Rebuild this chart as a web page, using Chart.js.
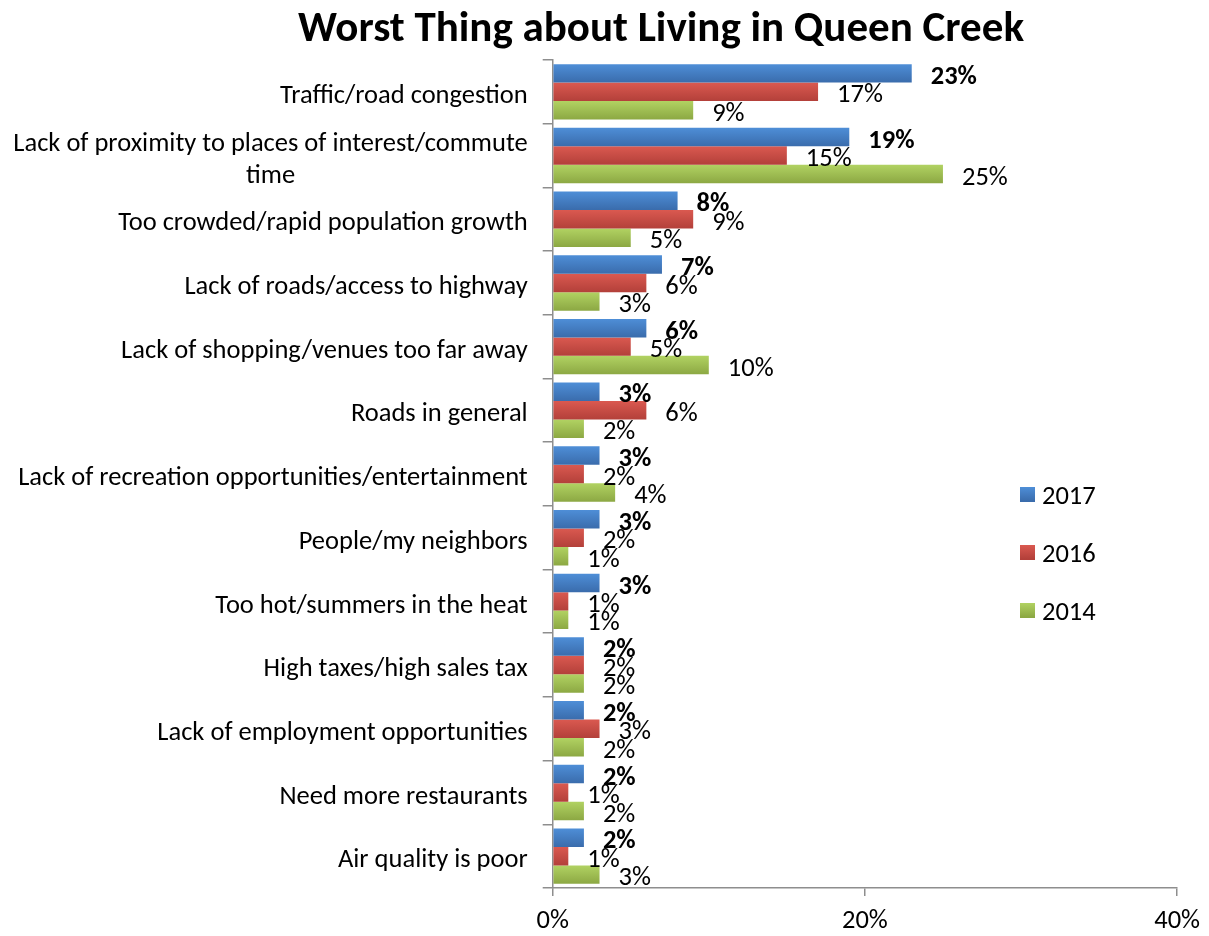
<!DOCTYPE html>
<html>
<head>
<meta charset="utf-8">
<title>Worst Thing about Living in Queen Creek</title>
<script src="https://cdn.jsdelivr.net/npm/chart.js@4.4.1/dist/chart.umd.min.js"></script>
<style>
html, body { margin: 0; padding: 0; background: #fff; overflow: hidden; }
#wrap { width: 1209px; height: 936px; }
canvas { display: block; }
</style>
</head>
<body>
<div id="wrap"><canvas id="chart" width="1209" height="936"></canvas></div>
<script>
const chart_title = "Worst Thing about Living in Queen Creek"

// Multi-line labels are arrays, one entry per line
const categories = [
    "Traffic/road congestion",
    ["Lack of proximity to places of interest/commute", "time"],
    "Too crowded/rapid population growth",
    "Lack of roads/access to highway",
    "Lack of shopping/venues too far away",
    "Roads in general",
    "Lack of recreation opportunities/entertainment",
    "People/my neighbors",
    "Too hot/summers in the heat",
    "High taxes/high sales tax",
    "Lack of employment opportunities",
    "Need more restaurants",
    "Air quality is poor",
]

const years = ["2017", "2016", "2014"]
const values_2017 = [23, 19, 8, 7, 6, 3, 3, 3, 3, 2, 2, 2, 2]
const values_2016 = [17, 15, 9, 6, 5, 6, 2, 2, 1, 2, 3, 1, 1]
const values_2014 = [9, 25, 5, 3, 10, 2, 4, 1, 1, 2, 2, 2, 3]

const x_ticks = [0, 20, 40]

const FONT = "Carlito, Lato, 'Open Sans', sans-serif"
const TEXT_SIZE = 26.5

// Each series gets a top-to-bottom shade, like the office-style bars
const shades = [
    { top: "#4E8ED7", bottom: "#3A6CAC" },
    { top: "#DA5950", bottom: "#B3403A" },
    { top: "#B1D262", bottom: "#8CA843" },
]

function bar_fill(shade) {
    return function (ctx) {
        let el = ctx.element
        if (!el || el.y == null || isNaN(el.y) || !el.height) {
            return shade.top
        }
        let g = ctx.chart.ctx.createLinearGradient(0, el.y - el.height / 2, 0, el.y + el.height / 2)
        g.addColorStop(0, shade.top)
        g.addColorStop(1, shade.bottom)
        return g
    }
}

// Category names drawn by hand so the wrapped label can be centred line by line
const categoryLabels = {
    id: "categoryLabels",
    afterDraw(chart) {
        let { ctx, chartArea } = chart
        let y_scale = chart.scales.y
        let right = chartArea.left - 25
        ctx.save()
        ctx.font = TEXT_SIZE + "px " + FONT
        ctx.fillStyle = "#000"
        ctx.textAlign = "center"
        ctx.textBaseline = "middle"
        categories.forEach((label, i) => {
            let lines = Array.isArray(label) ? label : [label]
            let w = Math.max(...lines.map(l => ctx.measureText(l).width))
            let cy = y_scale.getPixelForValue(i)
            lines.forEach((line, j) => {
                ctx.fillText(line, right - w / 2, cy + 4.5 + (j - (lines.length - 1) / 2) * 32)
            })
        })
        ctx.restore()
    }
}

// Percent labels just past the end of each bar; the latest year is bold
const valueLabels = {
    id: "valueLabels",
    afterDatasetsDraw(chart) {
        let ctx = chart.ctx
        ctx.save()
        ctx.fillStyle = "#000"
        ctx.textAlign = "left"
        ctx.textBaseline = "middle"
        chart.data.datasets.forEach((ds, di) => {
            ctx.font = (di == 0 ? "bold " : "") + TEXT_SIZE + "px " + FONT
            chart.getDatasetMeta(di).data.forEach((bar, i) => {
                ctx.fillText(ds.data[i] + "%", bar.x + 19, bar.y + 4)
            })
        })
        ctx.restore()
    }
}

const titleAndLegend = {
    id: "titleAndLegend",
    afterDraw(chart) {
        let ctx = chart.ctx
        ctx.save()
        ctx.fillStyle = "#000"
        ctx.font = "bold 43px " + FONT
        ctx.textAlign = "center"
        ctx.textBaseline = "alphabetic"
        ctx.fillText(chart_title, 661, 41)

        ctx.font = TEXT_SIZE + "px " + FONT
        ctx.textAlign = "left"
        ctx.textBaseline = "middle"
        years.forEach((yr, i) => {
            let cy = 494 + i * 58
            let g = ctx.createLinearGradient(0, cy - 7, 0, cy + 7)
            g.addColorStop(0, shades[i].top)
            g.addColorStop(1, shades[i].bottom)
            ctx.fillStyle = g
            ctx.fillRect(1020, cy - 7, 15, 15)
            ctx.fillStyle = "#000"
            ctx.fillText(yr, 1042, cy + 3)
        })
        ctx.restore()
    }
}

const series = [values_2017, values_2016, values_2014]

let my_chart = new Chart(document.getElementById("chart"), {
    type: "bar",
    data: {
        labels: categories,
        datasets: series.map((data, i) => ({
            label: years[i],
            data,
            backgroundColor: bar_fill(shades[i]),
            borderWidth: 0,
            categoryPercentage: 0.87,
            barPercentage: 1.0,
        }))
    },
    options: {
        indexAxis: "y",
        responsive: false,
        animation: false,
        maintainAspectRatio: false,
        layout: {
            // bottom is negative because the x-axis reserves its tick padding twice
            padding: { left: 542.7, right: 29, top: 60, bottom: -9.8 }
        },
        plugins: {
            legend: { display: false },
            title: { display: false },
            tooltip: { enabled: false },
        },
        scales: {
            x: {
                type: "linear",
                min: 0,
                max: 40,
                afterBuildTicks: (scale) => { scale.ticks = x_ticks.map(v => ({ value: v })) },
                ticks: {
                    callback: v => v + "%",
                    color: "#000",
                    font: { family: FONT, size: TEXT_SIZE },
                    padding: 9,
                    maxRotation: 0,
                },
                grid: {
                    drawOnChartArea: false,
                    drawTicks: true,
                    tickLength: 8,
                    color: "#8E8E8E",
                    lineWidth: 1.5,
                },
                border: { color: "#8E8E8E", width: 1.5 },
            },
            y: {
                type: "category",
                ticks: { display: false },
                grid: {
                    drawOnChartArea: false,
                    drawTicks: true,
                    tickLength: 10,
                    offset: true,
                    color: "#8E8E8E",
                    lineWidth: 1.5,
                },
                border: { color: "#8E8E8E", width: 1.5 },
            }
        }
    },
    plugins: [categoryLabels, valueLabels, titleAndLegend]
})

// Second pass so the bar gradients can use the laid-out bar positions
my_chart.update("none")
</script>
</body>
</html>
